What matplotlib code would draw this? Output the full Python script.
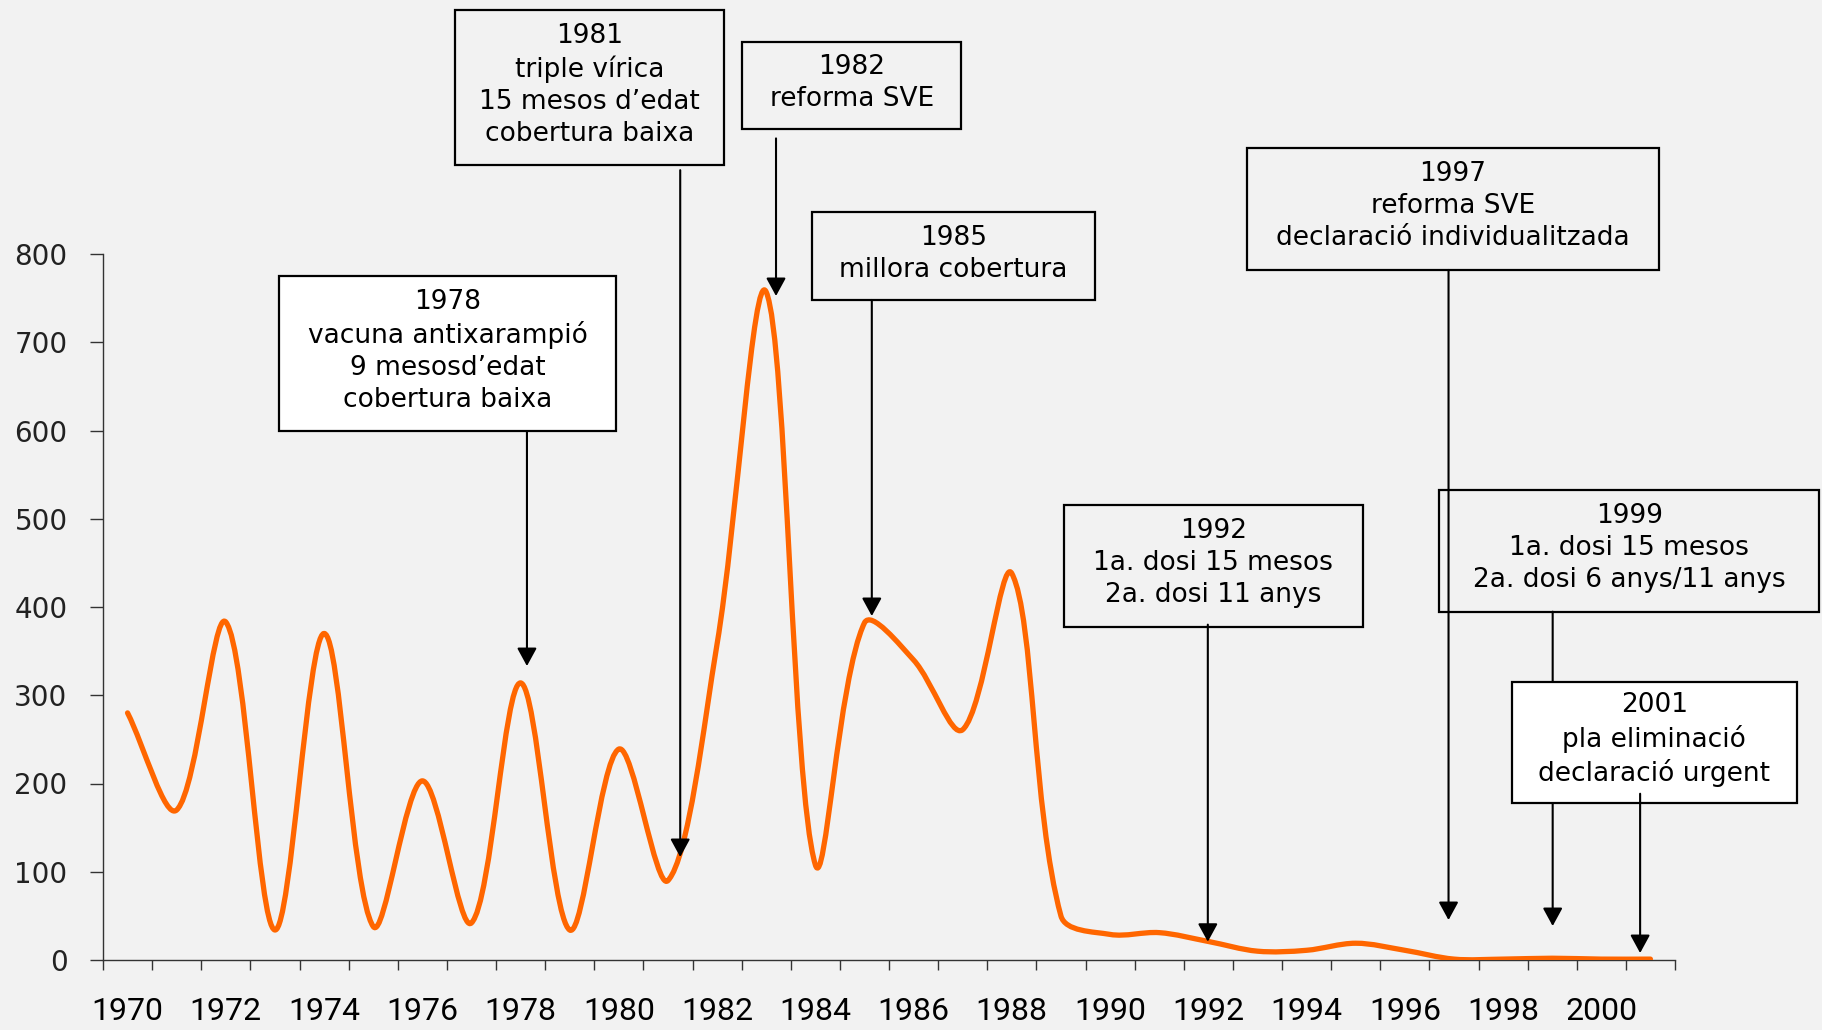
import numpy as np
import matplotlib
matplotlib.use('Agg')
import matplotlib.pyplot as plt
from matplotlib.path import Path
from matplotlib.patches import PathPatch, Rectangle

# Data: declared measles cases per year
years = list(range(1970, 2002))
cases = [280, 170, 383, 34, 370, 38, 203, 42, 314, 34,
         239, 90, 358, 757, 108, 382, 340, 261, 438, 50,
         29, 31, 21, 10, 11, 19, 11, 1, 1, 2, 1, 1]

y_ticks = [0, 100, 200, 300, 400, 500, 600, 700, 800]
x_label_years = list(range(1970, 2001, 2))

# Annotation texts
note_texts = [
    "1978\nvacuna antixarampió\n9 mesosd’edat\ncobertura baixa",
    "1981\ntriple vírica\n15 mesos d’edat\ncobertura baixa",
    "1982\nreforma SVE",
    "1985\nmillora cobertura",
    "1992\n1a. dosi 15 mesos\n2a. dosi 11 anys",
    "1997\nreforma SVE\ndeclaració individualitzada",
    "1999\n1a. dosi 15 mesos\n2a. dosi 6 anys/11 anys",
    "2001\npla eliminació\ndeclaració urgent",
]

# Layout of the boxes (x0, x1, top, bottom) and arrows (x, start, tip), in data units
note_boxes = [
    (1973.09, 1979.95, 774.6, 599.3),
    (1976.67, 1982.14, 1076.5, 900.8),
    (1982.51, 1986.97, 1040.2, 941.6),
    (1983.93, 1989.69, 847.2, 747.9),
    (1989.06, 1995.14, 515.6, 377.3),
    (1992.78, 2001.18, 919.8, 781.9),
    (1996.70, 2004.44, 532.6, 394.7),
    (1998.18, 2003.98, 315.0, 177.9),
]
note_arrows = [
    (1978.13, 599.3, 333.1),
    (1981.25, 895.0, 116.7),
    (1983.20, 931.0, 752.4),
    (1985.15, 747.9, 389.8),
    (1991.99, 380.0, 20.7),
    (1996.89, 781.9, 45.3),
    (1999.01, 394.7, 38.5),
    (2000.79, 188.4, 7.9),
]
note_fill = ['white', 'none', 'none', 'none', 'none', 'none', 'none', 'white']

bg = '#F2F2F2'
fig = plt.figure(figsize=(18.22, 10.30), dpi=100, facecolor=bg)
ax = fig.add_axes([103 / 1822, 70 / 1030, 1572 / 1822, 706 / 1030])
ax.set_facecolor(bg)
ax.set_xlim(1969.5, 2001.5)
ax.set_ylim(0, 800)


# Smoothed line (like a spreadsheet "smoothed line"): cubic Bezier through the points
def smooth_path(ax, xs, ys):
    pts = ax.transData.transform(np.column_stack([xs, ys]))
    n = len(pts)
    verts = [pts[0]]
    codes = [Path.MOVETO]
    tang = []
    for i in range(n):
        pp = pts[max(i - 1, 0)]
        pn = pts[min(i + 1, n - 1)]
        dp = np.hypot(*(pts[i] - pp))
        dn = np.hypot(*(pn - pts[i]))
        tang.append((pn - pp, dp, dn))
    for i in range(n - 1):
        t0, dp0, dn0 = tang[i]
        t1, dp1, dn1 = tang[i + 1]
        c1 = pts[i] + t0 * (dn0 / (dp0 + dn0)) / 3
        c2 = pts[i + 1] - t1 * (dp1 / (dp1 + dn1)) / 3
        verts += [c1, c2, pts[i + 1]]
        codes += [Path.CURVE4] * 3
    verts = ax.transData.inverted().transform(np.array(verts))
    return Path(verts, codes)


ax.add_patch(PathPatch(smooth_path(ax, years, cases), facecolor='none',
                       edgecolor='#FF6600', lw=3.8, capstyle='round',
                       joinstyle='round', zorder=3))

# Axes styling
for s in ['top', 'right']:
    ax.spines[s].set_visible(False)
for s in ['left', 'bottom']:
    ax.spines[s].set_color('#333333')
    ax.spines[s].set_linewidth(1.0)

ax.set_yticks(y_ticks)
ax.set_yticklabels([str(v) for v in y_ticks])
ax.tick_params(axis='y', direction='out', length=9.5, width=1.0,
               color='#333333', pad=16, labelsize=20, labelcolor='#222222')

ax.set_xticks(np.arange(1969.5, 2002, 1.0))
ax.set_xticklabels([])
ax.set_xticks(x_label_years, minor=True)
ax.set_xticklabels([str(y) for y in x_label_years], minor=True,
                   fontfamily='Roboto', fontsize=23)
ax.tick_params(axis='x', which='major', direction='out', length=7.2,
               width=1.0, color='#333333')
ax.tick_params(axis='x', which='minor', length=0, pad=27)

# Annotation boxes and arrows
for i, txt in enumerate(note_texts):
    x0, x1, top, bot = note_boxes[i]
    ax.add_patch(Rectangle((x0, bot), x1 - x0, top - bot, facecolor=note_fill[i],
                           edgecolor='black', lw=1.6, clip_on=False,
                           zorder=5 if i == 7 else 2))
    ax.text((x0 + x1) / 2, (top + bot) / 2 + 3, txt, ha='center', va='center',
            fontsize=19, linespacing=1.3, color='black', zorder=6, clip_on=False)
    ax_x, y0, y1 = note_arrows[i]
    ax.annotate('', xy=(ax_x, y1), xytext=(ax_x, y0), annotation_clip=False,
                arrowprops=dict(arrowstyle='-|>,head_length=0.55,head_width=0.3',
                                mutation_scale=20, color='black', lw=1.5,
                                shrinkA=0, shrinkB=0),
                zorder=6 if i == 7 else 4)

fig.savefig('out.png', dpi=100, facecolor=bg)
